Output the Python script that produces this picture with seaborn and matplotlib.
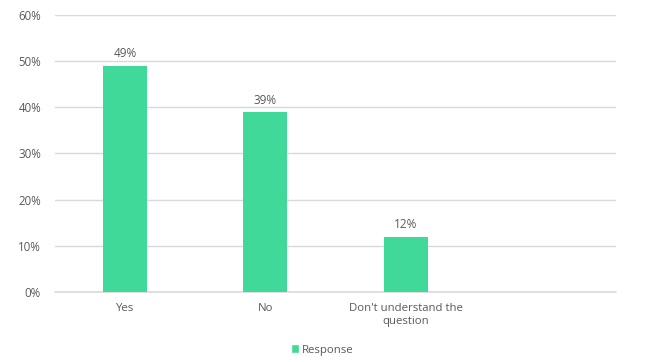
import matplotlib
matplotlib.use("Agg")
import matplotlib.pyplot as plt
import seaborn as sns
import pandas as pd
from matplotlib.patches import Patch

categories = ["Yes", "No", "Don't understand the\nquestion"]
values = [49, 39, 12]
yticks = [0, 10, 20, 30, 40, 50, 60]

bar_color = "#40D99A"
text_color = "#595959"
grid_color = "#D9D9D9"

sns.set_style("white")
plt.rcParams["font.family"] = ["Open Sans", "DejaVu Sans"]

df = pd.DataFrame({"category": categories, "value": values})

fig = plt.figure(figsize=(6.46, 3.62), dpi=100)
ax = fig.add_axes([55 / 646, 1 - 292 / 362, 561 / 646, (292 - 14.7) / 362])

sns.barplot(data=df, x="category", y="value", color=bar_color, width=0.315,
            saturation=1, ax=ax, zorder=3, linewidth=0)

ax.set_xlim(-0.5, 3.5)
ax.set_ylim(0, 60)
ax.set_yticks(yticks)
ax.set_yticklabels([f"{t}%" for t in yticks], fontsize=8.3, color=text_color)
ax.set_xticks(range(len(categories)))
ax.set_xticklabels(categories, fontsize=8.2, color=text_color, linespacing=1.25)
ax.tick_params(axis="both", length=0)
ax.tick_params(axis="y", pad=10)
ax.tick_params(axis="x", pad=8)
ax.set_xlabel("")
ax.set_ylabel("")

ax.yaxis.grid(True, color=grid_color, linewidth=1, zorder=0)
ax.axhline(0, color=grid_color, linewidth=1.2, zorder=2, clip_on=False)
for s in ax.spines.values():
    s.set_visible(False)

for i, v in enumerate(values):
    ax.text(i, v + 1.1, f"{v}%", ha="center", va="bottom", fontsize=8.5, color=text_color)

fig.legend(handles=[Patch(facecolor=bar_color, label="Response")],
           loc="center", bbox_to_anchor=(322 / 646, 1 - 350 / 362), frameon=False,
           fontsize=8.2, labelcolor=text_color, handlelength=0.75, handleheight=0.75,
           handletextpad=0.2)

fig.savefig("out.png", dpi=100)
